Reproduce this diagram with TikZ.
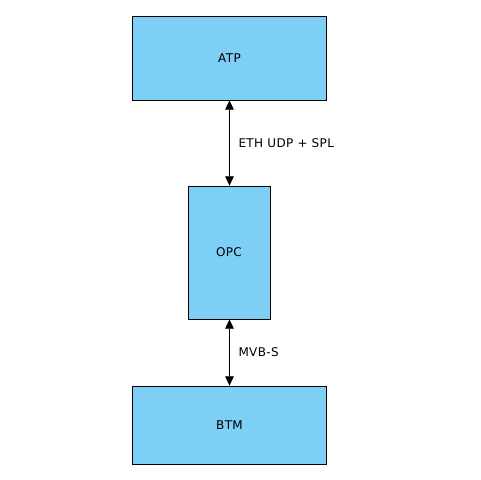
\documentclass[tikz,border=0pt]{standalone}
\usepackage{fontspec}
\setmainfont{DejaVu Sans}[LetterSpace=3]
\usetikzlibrary{arrows.meta}

\definecolor{boxblue}{HTML}{7ECFF5}

\begin{document}
\begin{tikzpicture}[x=0.75pt,y=-0.75pt,thick]

% Define styles
\tikzset{
  unit/.style={draw=black,fill=boxblue,line width=0.6pt,inner sep=0pt,font=\fontsize{9}{11}\selectfont},
  link/.style={line width=0.6pt,{Triangle[length=7pt,width=6.5pt]}-{Triangle[length=7pt,width=6.5pt]}},
  tag/.style={right,inner sep=0pt,font=\fontsize{9}{11}\selectfont}
}

% Fix the page size
\useasboundingbox (0,0) rectangle (480,480);

% Draw the units
\node[unit,minimum width=146pt,minimum height=63pt] (atp) at (229.5,58) {ATP};
\node[unit,minimum width=61.5pt,minimum height=99.75pt] (opc) at (229,252.5) {OPC};
\node[unit,minimum width=146pt,minimum height=58.5pt] (btm) at (229.5,425) {BTM};

% Draw the links and their labels
\draw[link] (atp.south -| 229.5,0) -- (opc.north -| 229.5,0);
\draw[link] (opc.south -| 229.5,0) -- (btm.north -| 229.5,0);
\node[tag] (eth) at (238,143) {ETH UDP + SPL};
\node[tag] (mvb) at (238,352) {MVB-S};

\end{tikzpicture}
\end{document}
